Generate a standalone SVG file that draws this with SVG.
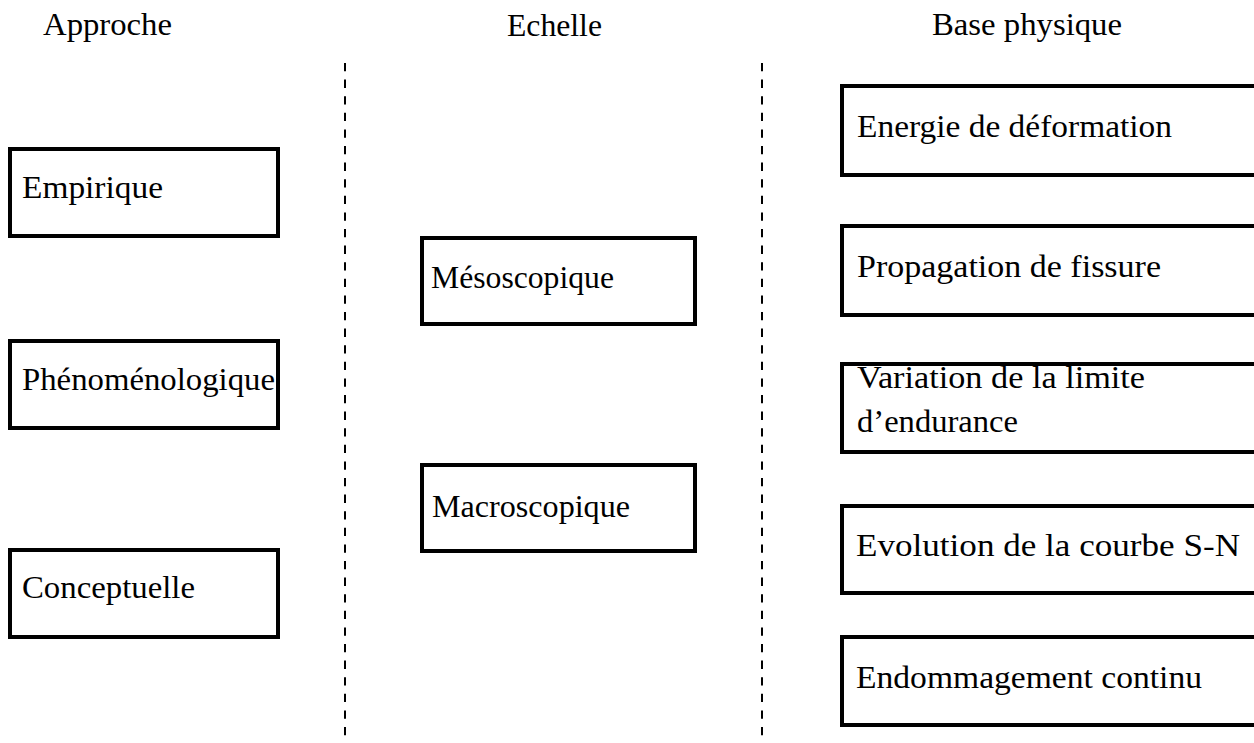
<svg xmlns="http://www.w3.org/2000/svg" width="1254" height="743" viewBox="0 0 1254 743">
<style>
text{font-family:"Liberation Serif","DejaVu Serif",serif;font-size:31px;fill:#000}
.box{fill:#fff;stroke:#000;stroke-width:4}
.sep{stroke:#000;stroke-width:2;stroke-dasharray:8.3 8.3;fill:none}
</style>
<rect width="1254" height="743" fill="#fff"/>
<g id="headers">
<text x="43" y="35" textLength="129" lengthAdjust="spacingAndGlyphs">Approche</text>
<text x="507" y="36" textLength="95" lengthAdjust="spacingAndGlyphs">Echelle</text>
<text x="932" y="35" textLength="190" lengthAdjust="spacingAndGlyphs">Base physique</text>
</g>
<g id="connectors">
<line class="sep" x1="345" y1="63" x2="345" y2="743"/>
<line class="sep" x1="762" y1="63" x2="762" y2="743"/>
</g>
<g id="n-empirique"><rect class="box" x="10" y="149" width="268" height="87"/><text x="22" y="198" textLength="141" lengthAdjust="spacingAndGlyphs">Empirique</text></g>
<g id="n-phenomeno"><rect class="box" x="10" y="341" width="268" height="87"/><text x="22" y="390" textLength="253" lengthAdjust="spacingAndGlyphs">Phénoménologique</text></g>
<g id="n-conceptuelle"><rect class="box" x="10" y="550" width="268" height="87"/><text x="22" y="598" textLength="173" lengthAdjust="spacingAndGlyphs">Conceptuelle</text></g>
<g id="n-meso"><rect class="box" x="422" y="238" width="273" height="86"/><text x="431" y="288" textLength="183" lengthAdjust="spacingAndGlyphs">Mésoscopique</text></g>
<g id="n-macro"><rect class="box" x="422" y="465" width="273" height="86"/><text x="432" y="517" textLength="198" lengthAdjust="spacingAndGlyphs">Macroscopique</text></g>
<g id="n-energie"><rect class="box" x="842" y="86" width="420" height="89"/><text x="857" y="137" textLength="315" lengthAdjust="spacingAndGlyphs">Energie de déformation</text></g>
<g id="n-propagation"><rect class="box" x="842" y="226" width="420" height="89"/><text x="857" y="277" textLength="304" lengthAdjust="spacingAndGlyphs">Propagation de fissure</text></g>
<g id="n-variation"><rect class="box" x="842" y="364" width="420" height="88"/><text x="857" y="388" textLength="288" lengthAdjust="spacingAndGlyphs">Variation de la limite</text><text x="857" y="432" textLength="161" lengthAdjust="spacingAndGlyphs">d’endurance</text></g>
<g id="n-evolution"><rect class="box" x="842" y="506" width="420" height="87"/><text x="856" y="556" textLength="384" lengthAdjust="spacingAndGlyphs">Evolution de la courbe S-N</text></g>
<g id="n-endommagement"><rect class="box" x="842" y="637" width="420" height="88"/><text x="856" y="688" textLength="346" lengthAdjust="spacingAndGlyphs">Endommagement continu</text></g>
</svg>
